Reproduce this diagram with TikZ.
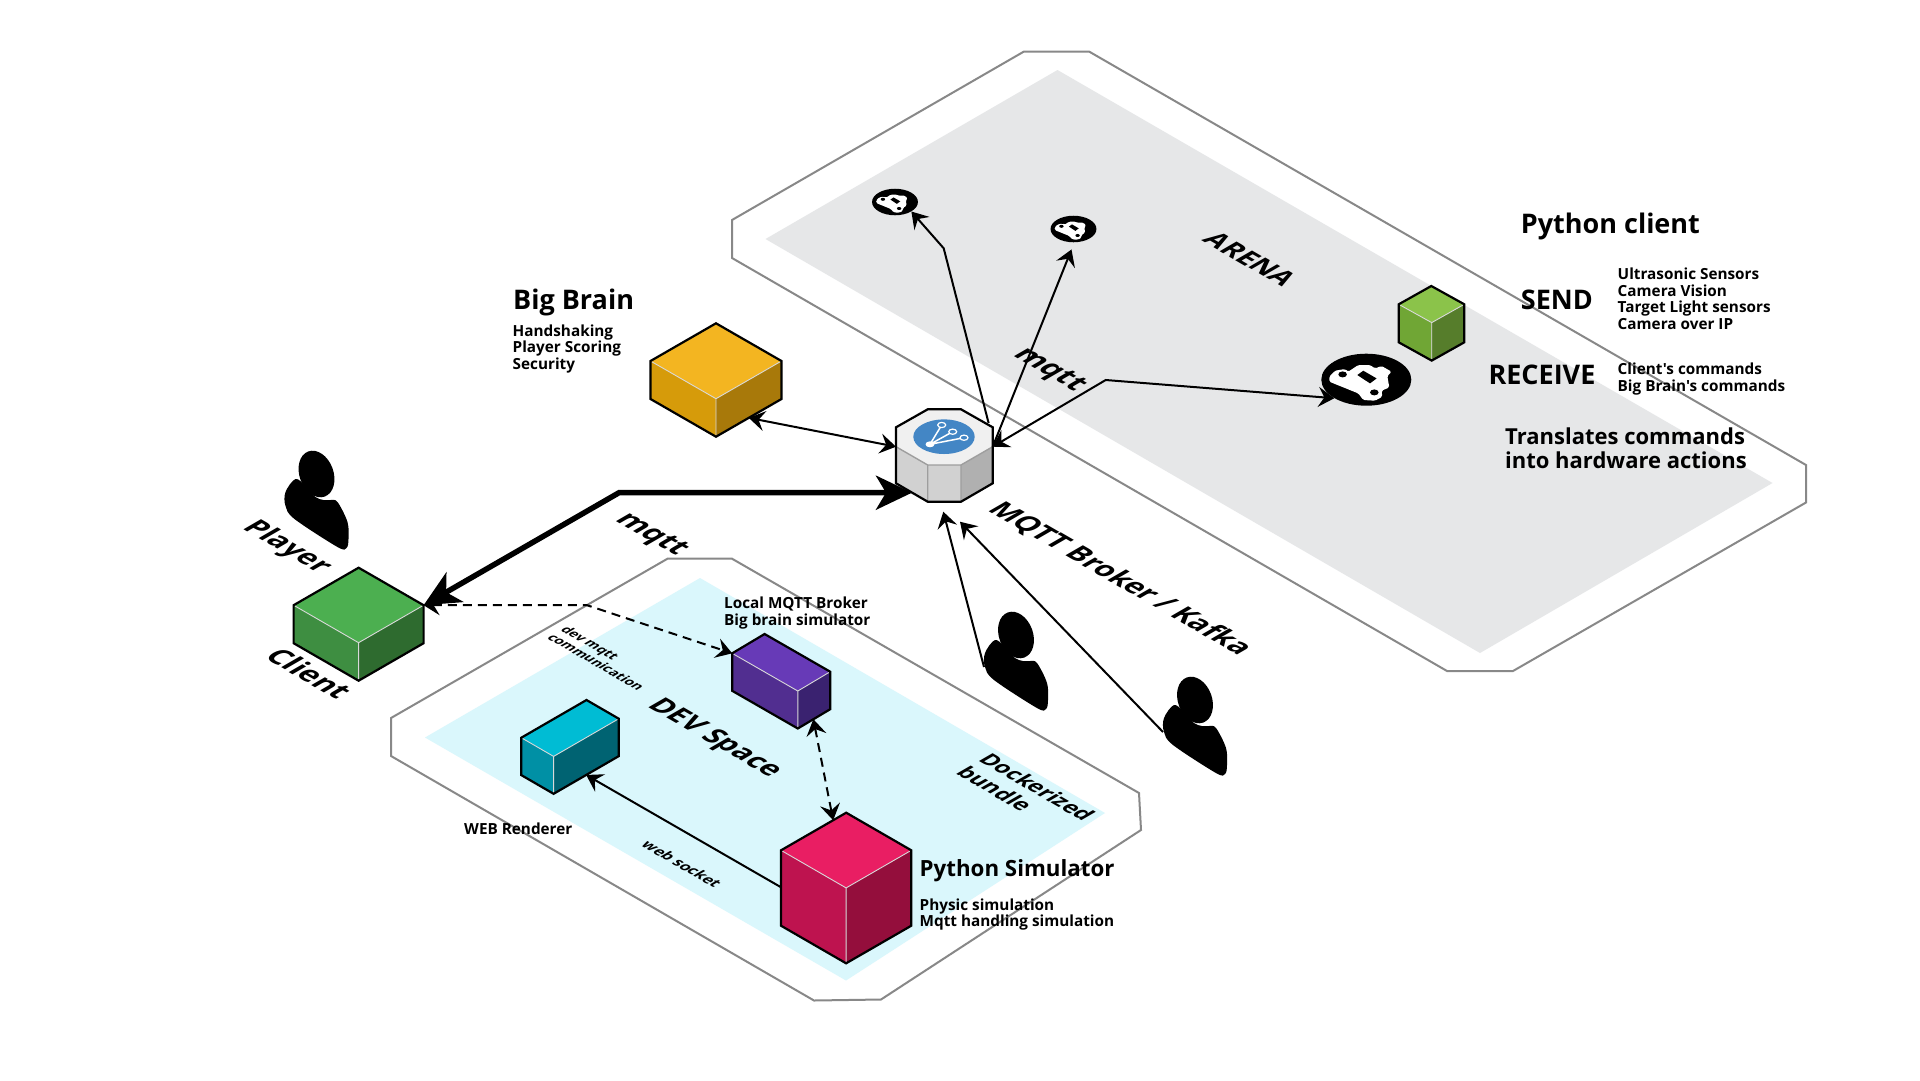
\documentclass[tikz,border=0pt]{standalone}
\usepackage{xcolor}
\usepackage{fontspec}
\usepackage{tikz}
\usetikzlibrary{
  shapes.geometric,
  arrows.meta,
  positioning,
  calc
}
\setmainfont{Open Sans}[Ligatures=TeXOff]
\definecolor{ArenaGray}{RGB}{230,231,232}
\definecolor{DevCyan}{RGB}{218,247,252}
\definecolor{ZoneLine}{RGB}{136,136,136}
\definecolor{BrainTop}{RGB}{243,181,33}
\definecolor{BrainLeft}{RGB}{214,155,10}
\definecolor{BrainRight}{RGB}{168,121,10}
\definecolor{ClientTop}{RGB}{76,175,80}
\definecolor{ClientLeft}{RGB}{62,142,65}
\definecolor{ClientRight}{RGB}{46,107,47}
\definecolor{RobotTop}{RGB}{139,195,74}
\definecolor{RobotLeft}{RGB}{112,166,53}
\definecolor{RobotRight}{RGB}{86,125,43}
\definecolor{LocalTop}{RGB}{103,58,183}
\definecolor{LocalLeft}{RGB}{81,46,144}
\definecolor{LocalRight}{RGB}{58,34,112}
\definecolor{WebTop}{RGB}{0,188,212}
\definecolor{WebLeft}{RGB}{0,144,165}
\definecolor{WebRight}{RGB}{0,99,114}
\definecolor{SimTop}{RGB}{233,30,99}
\definecolor{SimLeft}{RGB}{190,19,79}
\definecolor{SimRight}{RGB}{148,14,60}
\definecolor{BrokerBlue}{RGB}{67,134,197}
\newcommand{\isobox}[9]{
  \coordinate (#1-t) at (#2,#3);
  \coordinate (#1-l) at ($(#1-t)+(-#4,#5)$);
  \coordinate (#1-r) at ($(#1-t)+(#6,#7)$);
  \coordinate (#1-c) at ($(#1-l)+(#6,#7)$);
  \coordinate (#1-bl) at ($(#1-l)+(0,#8)$);
  \coordinate (#1-br) at ($(#1-r)+(0,#8)$);
  \coordinate (#1-b) at ($(#1-c)+(0,#8)$);
  \fill[#9Top] (#1-t) -- (#1-r) -- (#1-c) -- (#1-l) -- cycle;
  \fill[#9Left] (#1-l) -- (#1-c) -- (#1-b) -- (#1-bl) -- cycle;
  \fill[#9Right] (#1-r) -- (#1-c) -- (#1-b) -- (#1-br) -- cycle;
  \draw[boxseam] (#1-l) -- (#1-c) -- (#1-r) (#1-c) -- (#1-b);
  \draw[boxline] (#1-t) -- (#1-r) -- (#1-br) -- (#1-b) -- (#1-bl) -- (#1-l) -- cycle;
}
\newcommand{\person}[3]{
  \begin{scope}[shift={(#2,#3)}]
    \coordinate (#1) at (-32,32);
    \fill[rotate=20] (0,0) ellipse [x radius=17, y radius=24];
    \fill plot[smooth cycle, tension=0.55] coordinates {
      (-21,5) (-31,18) (-31,32) (-22,45) (21,73) (30,74) (32,65)
      (31,48) (21,28) (14,26) (7,26) (-1,23) (-11,12)};
  \end{scope}
}
\newcommand{\car}[4]{
  \node[carspot, minimum width=#4*90pt, minimum height=#4*52pt] (#1) at (#2,#3) {};
  \begin{scope}[shift={(#2,#3)}, scale=#4]
    \fill[white, rounded corners=1.5pt] (-37,-3) -- (-31.3,-9) -- (-21.3,-10.7) -- (-18,-8)
      -- (-8,-14.7) -- (3.7,-14.7) -- (8.7,-11.3) -- (15.3,-13.7) -- (25.3,-8) -- (21,-3.7)
      -- (23,7.7) -- (15.3,11) -- (16,17) -- (8.7,21) -- (-3,20.3) -- (-8,13.7) -- (-37,2) -- cycle;
    \fill (-9,-4.7) -- (-3,-9) -- (10.3,-1.3) -- (3.7,3.7) -- cycle;
    \fill (-23.7,-5.3) ellipse [x radius=4.3, y radius=3];
    \fill (8,12.7) ellipse [x radius=4.3, y radius=3];
  \end{scope}
}
\tikzset{
  %%── areas ──────────────────────────────
  zone/.style = {draw = ZoneLine, line width = 2pt, line join = miter},
  %%── boxes ──────────────────────────────
  boxline/.style = {draw = black, line width = 2.2pt, line join = miter},
  boxseam/.style = {draw = white!85!black, line width = 0.9pt},
  carspot/.style = {ellipse, fill = black, inner sep = 0pt},
  %%── labels ─────────────────────────────
  title/.style = {anchor = base west, inner sep = 0pt, font = \fontsize{27}{32}\selectfont\bfseries},
  head/.style  = {anchor = base west, inner sep = 0pt, font = \fontsize{27}{32}\selectfont\bfseries},
  lead/.style  = {anchor = west, inner sep = 0pt, align = left, font = \fontsize{22}{24}\selectfont\bfseries},
  info/.style  = {anchor = west, inner sep = 0pt, align = left, font = \fontsize{15.3}{16.5}\selectfont\bfseries},
  iso/.style   = {cm = {0.866,-0.5,0.866,0.5,(0,0)}, inner sep = 0pt, align = left},
  %%── arrows ─────────────────────────────
  arr/.style   = {->, >={Stealth[length=16pt, width=20pt, inset=6pt]}, line width = 2pt},
  barr/.style  = {<->, >={Stealth[length=16pt, width=20pt, inset=6pt]}, line width = 2pt},
  darr/.style  = {<->, >={Stealth[length=16pt, width=20pt, inset=6pt]}, line width = 2pt, dash pattern = on 9pt off 6pt},
  thick/.style = {<->, >={Stealth[length=36pt, width=34pt, inset=10pt]}, line width = 5.5pt},
}
\begin{document}
\begin{tikzpicture}[x=1pt, y=-1pt]
  \useasboundingbox (0,0) rectangle (1920,1080);
  % areas
  \filldraw[zone, fill=white] (1024,51.5) -- (1089,51.5) -- (1806,465) -- (1806,502.5)
    -- (1513,671) -- (1447,671) -- (732,258) -- (732,220) -- cycle;
  \fill[ArenaGray] (1057.5,70) -- (1772.5,483) -- (1480,653) -- (765.5,239) -- cycle;
  \filldraw[zone, fill=white] (667.5,558.7) -- (732,558.7) -- (1139,793) -- (1141,830)
    -- (881,999.5) -- (814,1000.5) -- (391,756) -- (391,718) -- cycle;
  \fill[DevCyan] (700,578) -- (1105,813) -- (846,980.5) -- (425,737.5) -- cycle;

  % parts
  \isobox{bigbrain}{716}{323.3}{65.5}{37.7}{65.5}{37.7}{38}{Brain}
  \isobox{client}{358.6}{567.7}{65}{37.5}{65}{37.5}{38}{Client}
  \isobox{robot}{1431.3}{286}{32.6}{18.3}{33}{18.3}{38}{Robot}
  \isobox{localbroker}{764.6}{634}{32.4}{19.3}{65.6}{37.7}{37.5}{Local}
  \isobox{renderer}{586.5}{700}{65.2}{37.7}{32.3}{18.7}{37.4}{Web}
  \isobox{simulator}{846.2}{812.7}{65.2}{37.6}{65.1}{37.6}{75.4}{Sim}
  \car{carone}{895}{202}{0.51}
  \car{cartwo}{1073.5}{229}{0.51}
  \car{carbig}{1366.3}{379.7}{1}

  % broker
  \coordinate (brokerw) at (896,446.7);
  \coordinate (brokere) at (992.7,446.7);
  \coordinate (brokerne) at (988.6,423);
  \coordinate (brokersw) at (912,492.7);
  \coordinate (brokers) at (943.3,511.7);
  \coordinate (brokerse) at (960,521.7);
  \fill[white!94!black] (927.7,409.3) -- (961,409.3) -- (992.7,427.3) -- (992.7,446.7)
    -- (961,465) -- (927.7,465) -- (896,446.7) -- (896,427.3) -- cycle;
  \fill[white!82!black] (896,446.7) -- (927.7,465) -- (927.7,501.7) -- (896,483.3) -- cycle;
  \fill[white!82!black] (927.7,465) -- (961,465) -- (961,501.7) -- (927.7,501.7) -- cycle;
  \fill[white!69!black] (961,465) -- (992.7,446.7) -- (992.7,483.3) -- (961,501.7) -- cycle;
  \draw[white!62!black, line width=1.4pt] (896,446.7) -- (927.7,465) -- (961,465) -- (992.7,446.7)
    (927.7,465) -- (927.7,501.7) (961,465) -- (961,501.7);
  \draw[boxline] (927.7,409.3) -- (961,409.3) -- (992.7,427.3) -- (992.7,483.3) -- (961,501.7)
    -- (927.7,501.7) -- (896,483.3) -- (896,427.3) -- cycle;
  \fill[BrokerBlue] (944,436.7) ellipse [x radius=30.7, y radius=17.3];
  \draw[white, line width=1.5pt] (930,444.3) -- (941.7,425) (930,444.3) -- (952.7,431.7) (930,444.3) -- (964,437.7);
  \fill[white] (930,444.3) ellipse [x radius=4.5, y radius=3];
  \foreach \x/\y in {941.7/425, 952.7/431.7, 964/437.7}
    \filldraw[draw=white, fill=BrokerBlue, line width=1.2pt] (\x,\y) ellipse [x radius=4, y radius=2.6];

  % users
  \person{player}{316.5}{474}
  \person{userone}{1016}{635}
  \person{usertwo}{1195}{700}

  % links
  \coordinate (bendcarone) at (943.7,248.3);
  \coordinate (bendcarbig) at (1105.7,380);
  \coordinate (bendthick) at (619,492.7);
  \coordinate (benddev) at (586.4,605);
  \draw[barr] ($(bigbrain-b)!0.5!(bigbrain-br)$) -- (brokerw);
  \draw[arr] (brokerne) -- (bendcarone) -- (carone.south east);
  \draw[arr] (brokere) -- ($(cartwo.south)+(-2,7)$);
  \draw[barr] (brokere) -- (bendcarbig) -- (carbig.south west);
  \draw[thick] (client-r) -- (bendthick) -- (brokersw);
  \draw[arr] (userone) -- (brokers);
  \draw[arr] (usertwo) -- (brokerse);
  \draw[darr] (client-r) -- (benddev) -- (localbroker-l);
  \draw[darr] ($(localbroker-b)!0.48!(localbroker-br)$) -- ($(simulator-t)!0.2!(simulator-l)$);
  \draw[arr] ($(simulator-l)!0.49!(simulator-bl)$) -- ($(renderer-b)!0.5!(renderer-br)$);

  % labels
  \node[title] (braintitle) at (513,309.3) {Big Brain};
  \node[info, anchor=north west] (braininfo) at (512.5,324.5) {Handshaking\\Player Scoring\\Security};
  \node[title] (robottitle) at (1520.7,233.7) {Python client};
  \node[head] (sendlabel) at (1520.7,309) {SEND};
  \node[info] (sendinfo) at (1617.5,299) {Ultrasonic Sensors\\Camera Vision\\Target Light sensors\\Camera over IP};
  \node[head] (receivelabel) at (1488.3,384.3) {RECEIVE};
  \node[info] (receiveinfo) at (1617.5,379) {Client's commands\\Big Brain's commands};
  \node[lead] (robotnote) at (1505,448) {Translates commands\\into hardware actions};
  \node[info] (localinfo) at (724,613) {Local MQTT Broker\\Big brain simulator};
  \node[info, anchor=base west] (webinfo) at (464,834) {WEB Renderer};
  \node[title, font=\fontsize{22.3}{28}\selectfont\bfseries] (simtitle) at (919.5,876.7) {Python Simulator};
  \node[info] (siminfo) at (919.5,914.5) {Physic simulation\\Mqtt handling simulation};
  \node[iso, font=\fontsize{27.3}{32}\selectfont\bfseries] (arenalabel) at (1250,259) {ARENA};
  \node[iso, font=\fontsize{29}{34}\selectfont\bfseries] (mqttarena) at (1048.5,370.5) {mqtt};
  \node[iso, font=\fontsize{28.2}{33}\selectfont\bfseries] (brokerlabel) at (1120,579) {MQTT Broker / Kafka};
  \node[iso, font=\fontsize{29}{34}\selectfont\bfseries] (mqttdev) at (650.5,535) {mqtt};
  \node[iso, font=\fontsize{28.4}{33}\selectfont\bfseries] (playerlabel) at (286.5,547.4) {Player};
  \node[iso, font=\fontsize{29}{34}\selectfont\bfseries] (clientlabel) at (309.5,673.5) {Client};
  \node[iso, font=\fontsize{28}{33}\selectfont\bfseries] (devlabel) at (714,738.4) {DEV Space};
  \node[iso, font=\fontsize{22}{26}\selectfont\bfseries] (bundlelabel) at (1026,793.5) {Dockerized\\bundle};
  \node[iso, font=\fontsize{13.4}{15.5}\selectfont\bfseries] (devmqttlabel) at (603,658) {dev mqtt\\communication};
  \node[iso, font=\fontsize{15.2}{18}\selectfont\bfseries] (socketlabel) at (682,864) {web socket};
\end{tikzpicture}
\end{document}
